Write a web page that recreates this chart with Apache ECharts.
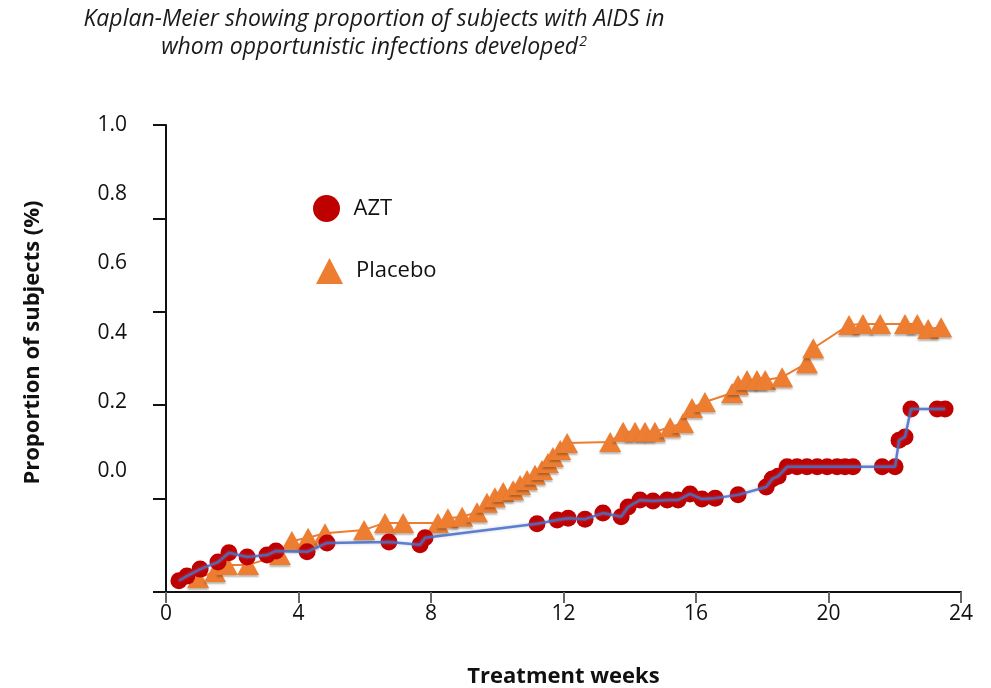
<!DOCTYPE html>
<html>
<head>
<meta charset="utf-8">
<script src="https://cdn.jsdelivr.net/npm/echarts@6/dist/echarts.min.js"></script>
<style>
  html, body { margin: 0; padding: 0; background: #fff; }
  #chart { width: 991px; height: 688px; }
</style>
</head>
<body>
<div id="chart"></div>
<script>
// Kaplan-Meier curves: cumulative proportion with opportunistic infections
const aztWeeks = [0.39, 0.63, 1.03, 1.57, 1.90, 2.45, 3.05, 3.32, 4.26, 4.86, 6.73, 7.67, 7.82,
  11.20, 11.81, 12.14, 12.65, 13.19, 13.74, 13.95, 14.31, 14.70, 15.13, 15.46, 15.82, 16.18, 16.58,
  17.27, 18.12, 18.30, 18.48, 18.75, 19.05, 19.35, 19.66, 19.96, 20.26, 20.50, 20.74, 21.62, 22.01,
  22.13, 22.31, 22.49, 23.28, 23.52];
const aztProportion = [0.024, 0.034, 0.049, 0.064, 0.084, 0.075, 0.079, 0.088, 0.086, 0.105, 0.107, 0.101, 0.116,
  0.146, 0.154, 0.158, 0.156, 0.169, 0.161, 0.182, 0.197, 0.195, 0.197, 0.197, 0.210, 0.199, 0.201,
  0.208, 0.225, 0.242, 0.248, 0.268, 0.268, 0.268, 0.268, 0.268, 0.268, 0.268, 0.268, 0.268, 0.268,
  0.325, 0.332, 0.392, 0.392, 0.392];

const placeboWeeks = [0.97, 1.48, 1.84, 2.48, 3.44, 3.80, 4.29, 4.80, 5.98, 6.61, 7.16, 8.21, 8.51,
  8.94, 9.39, 9.69, 9.93, 10.18, 10.48, 10.69, 10.90, 11.14, 11.35, 11.53, 11.68, 11.90, 12.11,
  13.41, 13.80, 14.16, 14.46, 14.76, 15.22, 15.61, 15.88, 16.27, 17.09, 17.27, 17.54, 17.84, 18.09,
  18.60, 19.35, 19.54, 20.62, 21.04, 21.56, 22.31, 22.68, 23.01, 23.40];
const placeboProportion = [0.030, 0.043, 0.058, 0.058, 0.079, 0.109, 0.116, 0.126, 0.133, 0.148, 0.148, 0.148, 0.158,
  0.161, 0.171, 0.191, 0.203, 0.214, 0.218, 0.229, 0.240, 0.251, 0.261, 0.276, 0.289, 0.304, 0.319,
  0.321, 0.343, 0.343, 0.343, 0.343, 0.353, 0.362, 0.394, 0.407, 0.426, 0.443, 0.454, 0.454, 0.454,
  0.460, 0.490, 0.522, 0.572, 0.574, 0.574, 0.574, 0.574, 0.563, 0.567];

const weekTicks = [0, 4, 8, 12, 16, 20, 24];
const proportionLabels = [0.0, 0.2, 0.4, 0.6, 0.8, 1.0];

const FONT = '"Open Sans", "Noto Sans", sans-serif';
const AZT_RED = '#bf0000';
const AZT_LINE = 'rgba(68, 110, 196, 0.85)';
const PLACEBO_ORANGE = '#ed7d31';

const pairs = (xs, ys) => xs.map((x, i) => [x, ys[i]]);

const chart = echarts.init(document.getElementById('chart'), null, { renderer: 'canvas' });

chart.setOption({
  backgroundColor: '#ffffff',
  animation: false,
  title: {
    text: '{t|Kaplan-Meier showing proportion of subjects with AIDS in}\n{t|whom opportunistic infections developed}{sup|2}',
    left: 374,
    top: 5,
    textAlign: 'center',
    padding: 0,
    textStyle: {
      fontWeight: 'normal',
      rich: {
        t: { fontFamily: FONT, fontStyle: 'italic', fontWeight: 'normal', fontSize: 23, color: '#1a1a1a', lineHeight: 28 },
        sup: { fontFamily: FONT, fontStyle: 'italic', fontWeight: 'normal', fontSize: 14, color: '#1a1a1a', lineHeight: 28, padding: [0, 0, 10, 1] }
      }
    }
  },
  legend: [
    {
      data: [{ name: 'AZT', icon: 'circle' }],
      left: 313, top: 195,
      itemWidth: 28, itemHeight: 27,
      padding: 0,
      textStyle: { fontFamily: FONT, fontSize: 22, color: '#111', padding: [0, 0, 12, 8] }
    },
    {
      data: [{ name: 'Placebo', icon: 'triangle' }],
      left: 316, top: 258,
      itemWidth: 27, itemHeight: 26,
      padding: 0,
      textStyle: { fontFamily: FONT, fontSize: 22, color: '#111', padding: [0, 0, 38, 8] }
    }
  ],
  grid: { left: 166, right: 30, top: 125, bottom: 96, containLabel: false, outerBoundsMode: 'none' },
  xAxis: {
    type: 'value',
    min: 0, max: 24, interval: 4,
    name: 'Treatment weeks',
    nameLocation: 'middle',
    nameGap: 74,
    nameTextStyle: { fontFamily: FONT, fontSize: 22, fontWeight: 'bold', color: '#111' },
    axisLine: { lineStyle: { color: '#111', width: 2 } },
    axisTick: { length: 11, lineStyle: { color: '#666', width: 2 } },
    axisLabel: {
      fontFamily: FONT, fontSize: 21, color: '#111', margin: 12,
      customValues: weekTicks
    },
    splitLine: { show: false }
  },
  yAxis: [
    {
      type: 'value',
      min: 0, max: 1, interval: 0.2,
      position: 'left',
      name: 'Proportion of subjects (%)',
      nameLocation: 'middle',
      nameGap: 133,
      nameRotate: 90,
      nameTextStyle: { fontFamily: FONT, fontSize: 22, fontWeight: 'bold', color: '#111', verticalAlign: 'middle', padding: [0, 0, 0, 32] },
      axisLine: { show: true, lineStyle: { color: '#111', width: 2 } },
      axisTick: { show: true, length: 13, lineStyle: { color: '#111', width: 2 } },
      axisLabel: { show: false },
      splitLine: { show: false }
    },
    {
      // tick labels set on their own scale
      type: 'value',
      min: -0.35, max: 1.0,
      position: 'left',
      axisLine: { show: false },
      axisTick: { show: false },
      splitLine: { show: false },
      axisLabel: {
        fontFamily: FONT, fontSize: 21, color: '#111', margin: 39,
        customValues: proportionLabels,
        formatter: v => v.toFixed(1)
      }
    }
  ],
  series: [
    {
      name: 'Placebo',
      type: 'line',
      yAxisIndex: 0,
      data: pairs(placeboWeeks, placeboProportion),
      symbol: 'triangle',
      symbolSize: [22, 20],
      showSymbol: true,
      z: 2,
      lineStyle: { color: PLACEBO_ORANGE, width: 2 },
      itemStyle: {
        color: PLACEBO_ORANGE,
        shadowColor: 'rgba(60, 40, 20, 0.35)',
        shadowBlur: 2,
        shadowOffsetY: 2
      },
      emphasis: { disabled: true }
    },
    {
      name: 'AZT',
      type: 'scatter',
      yAxisIndex: 0,
      data: pairs(aztWeeks, aztProportion),
      symbol: 'circle',
      symbolSize: 17,
      z: 3,
      itemStyle: {
        color: AZT_RED,
        opacity: 1
      },
      emphasis: { disabled: true }
    },
    {
      name: 'AZT curve',
      type: 'line',
      yAxisIndex: 0,
      data: pairs(aztWeeks, aztProportion),
      showSymbol: false,
      symbol: 'none',
      z: 4,
      lineStyle: {
        color: AZT_LINE,
        width: 2.5,
        shadowColor: 'rgba(150, 150, 210, 0.6)',
        shadowBlur: 3
      },
      emphasis: { disabled: true }
    }
  ]
});
</script>
</body>
</html>
